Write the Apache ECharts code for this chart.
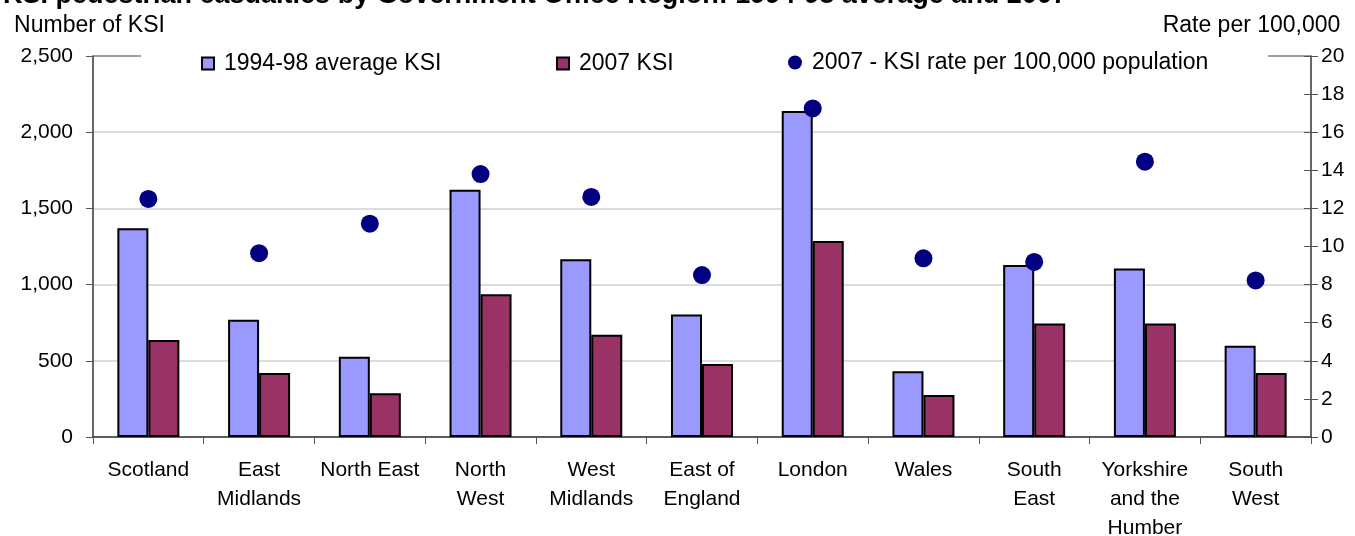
<!DOCTYPE html>
<html>
<head>
<meta charset="utf-8">
<script src="https://cdn.jsdelivr.net/npm/echarts@6/dist/echarts.min.js"></script>
<style>html,body{margin:0;padding:0;background:#fff}#c{width:1355px;height:536px}</style>
</head>
<body>
<div id="c"></div>
<script>
var titleText = 'KSI pedestrian casualties by Government Office Region: 1994-98 average and 2007';
var categories = ['Scotland', 'East\nMidlands', 'North East', 'North\nWest', 'West\nMidlands', 'East of\nEngland', 'London', 'Wales', 'South\nEast', 'Yorkshire\nand the\nHumber', 'South\nWest'];
var avg9498 = [1370, 770, 527, 1623, 1166, 803, 2139, 431, 1129, 1105, 599];
var ksi2007 = [636, 420, 287, 936, 671, 479, 1286, 276, 744, 744, 420];
var rate2007 = [12.5, 9.65, 11.2, 13.8, 12.6, 8.5, 17.25, 9.38, 9.19, 14.45, 8.22];
var seriesNames = ['1994-98 average KSI', '2007 KSI', '2007 - KSI rate per 100,000 population'];
var leftTicks = {min: 0, max: 2500, interval: 500};
var rightTicks = {min: 0, max: 20, interval: 2};

var FONT = "'Liberation Sans', Arial, sans-serif";
var chart = echarts.init(document.getElementById('c'), null, {renderer: 'canvas'});
var legendBase = {
  top: 52, itemWidth: 12, itemHeight: 12, itemGap: 0, z: 100, padding: 0,
  textStyle: {fontFamily: FONT, fontSize: 23, color: '#000', padding: [0, 0, 0, 5]}
};
chart.setOption({
  animation: false,
  backgroundColor: '#fff',
  textStyle: {fontFamily: FONT},
  title: {
    text: titleText, left: -2, top: -23,
    textStyle: {fontFamily: FONT, fontSize: 27, fontWeight: 'bold', color: '#000'}
  },
  graphic: [{
    type: 'rect', z: 50,
    shape: {x: 141, y: 46, width: 1127, height: 24},
    style: {fill: '#fff'}
  }],
  legend: [
    Object.assign({}, legendBase, {left: 201, data: [{name: seriesNames[0], icon: 'rect'}]}),
    Object.assign({}, legendBase, {left: 556, data: [{name: seriesNames[1], icon: 'rect'}]}),
    Object.assign({}, legendBase, {left: 788, top: 51, itemWidth: 14, itemHeight: 14, data: [{name: seriesNames[2], icon: 'circle'}]})
  ],
  grid: {left: 93, right: 44, top: 56, bottom: 99, containLabel: false, outerBoundsMode: 'none'},
  xAxis: {
    type: 'category', data: categories,
    axisLine: {lineStyle: {color: '#333', width: 1.5}},
    axisTick: {show: true, length: 7, lineStyle: {color: '#555'}},
    axisLabel: {interval: 0, margin: 19, fontFamily: FONT, fontSize: 21, color: '#000', lineHeight: 29}
  },
  yAxis: [{
    type: 'value', position: 'left',
    min: leftTicks.min, max: leftTicks.max, interval: leftTicks.interval,
    name: 'Number of KSI', nameLocation: 'end', nameGap: 19,
    nameTextStyle: {fontFamily: FONT, fontSize: 23, color: '#000', align: 'center', padding: [0, 7, 0, 0]},
    axisLine: {show: true, lineStyle: {color: '#333', width: 1.5}},
    axisTick: {show: true, length: 7, lineStyle: {color: '#555'}},
    axisLabel: {fontFamily: FONT, fontSize: 21, color: '#000', margin: 20,
      formatter: function (v) { return v.toLocaleString('en-GB'); }},
    splitLine: {show: true, lineStyle: {color: ['#d0d0d0', '#d0d0d0', '#d0d0d0', '#d0d0d0', '#d0d0d0', '#808080'], width: 1.5}}
  }, {
    type: 'value', position: 'right',
    min: rightTicks.min, max: rightTicks.max, interval: rightTicks.interval,
    name: 'Rate per 100,000', nameLocation: 'end', nameGap: 19,
    nameTextStyle: {fontFamily: FONT, fontSize: 23, color: '#000', align: 'center', padding: [0, 119, 0, 0]},
    axisLine: {show: true, lineStyle: {color: '#333', width: 1.5}},
    axisTick: {show: true, length: 7, lineStyle: {color: '#555'}},
    axisLabel: {fontFamily: FONT, fontSize: 21, color: '#000', margin: 10},
    splitLine: {show: false}
  }, {
    type: 'value', position: 'right',
    min: rightTicks.min, max: rightTicks.max, interval: rightTicks.interval,
    axisLine: {show: false},
    axisTick: {show: true, inside: true, length: 7, lineStyle: {color: '#555'}},
    axisLabel: {show: false},
    splitLine: {show: false}
  }],
  series: [{
    name: seriesNames[0], type: 'bar', yAxisIndex: 0, data: avg9498,
    barGap: '0%', barCategoryGap: '44%',
    itemStyle: {color: '#9999ff', borderColor: '#000', borderWidth: 2}
  }, {
    name: seriesNames[1], type: 'bar', yAxisIndex: 0, data: ksi2007,
    barGap: '0%', barCategoryGap: '44%',
    itemStyle: {color: '#993366', borderColor: '#000', borderWidth: 2}
  }, {
    name: seriesNames[2], type: 'scatter', yAxisIndex: 1, data: rate2007,
    symbol: 'circle', symbolSize: 18, z: 5,
    itemStyle: {color: '#000080', opacity: 1}
  }]
});
</script>
</body>
</html>
